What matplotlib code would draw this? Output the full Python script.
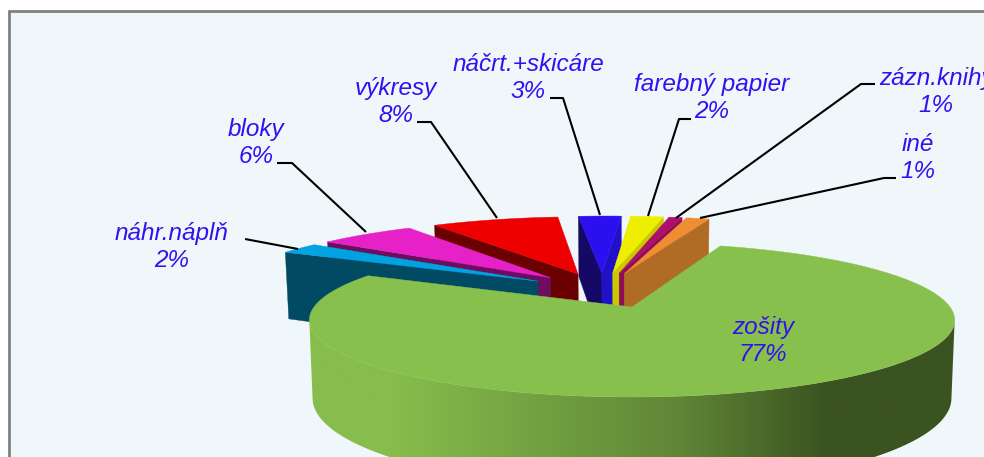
import numpy as np
import matplotlib
matplotlib.use("Agg")
import matplotlib.pyplot as plt
from matplotlib.colors import LinearSegmentedColormap
from matplotlib.patches import Polygon, Rectangle

categories = ["zošity", "náhr.náplň", "bloky", "výkresy", "náčrt.+skicáre",
              "farebný papier", "zázn.knihy", "iné"]
# shares, the labels round them
values = [77.2, 2.4, 5.8, 7.7, 2.6, 2.0, 0.8, 1.4]

top_colors = ["#88C04E", "#00A3DF", "#E621C8", "#EE0000", "#2A10EE", "#EEEE00", "#AE0F6C", "#F08C32"]
left_colors = ["#88C04E", "#004A63", "#6B0E5E", "#6B0000", "#140A66", "#C9C900", "#8F0D58", "#B06C24"]
right_colors = ["#88C04E", "#004A63", "#6B0E5E", "#6B0000", "#2011C8", "#C9C900", "#8F0D58", "#B06C24"]

label_pos = [(763, 341), (172, 247), (256, 143), (396, 102), (528, 78),
             (712, 98), (936, 92), (918, 158)]
leaders = [None,
           [(245, 239), (298, 249)],
           [(277, 163), (292, 163), (366, 232)],
           [(417, 122), (431, 122), (497, 218)],
           [(550, 98), (563, 98), (600, 215)],
           [(691, 119), (679, 119), (648, 216)],
           [(875, 84), (861, 84), (676, 218)],
           [(896, 178), (884, 178), (700, 218)]]

# camera: flat pie -> pixels, the far side is squeezed
APEX_X, APEX_Y = 632, 307
SCALE_X, SCALE_Y = 318, 74.8
PERSP = 0.169
DEPTH = 76
EXPLODE = 0.255
SMALL_R = 1.04
START = 71.2


def project(u, v, bottom=False):
    u, v = np.asarray(u, float), np.asarray(v, float)
    s = 1 / (1 + PERSP * v)
    x = SCALE_X * u * s
    y = APEX_Y - SCALE_Y * v * s
    if bottom:
        x = x * 0.99
        y = y + DEPTH * s
    return np.column_stack([APEX_X + x, y])


def band(ax, u, v, color):
    top = project(u, v)
    bot = project(u, v, bottom=True)
    patch = Polygon(np.vstack([top, bot[::-1]]), closed=True, fc=color, ec=color, lw=0.3, zorder=ax.z)
    ax.add_patch(patch)
    ax.z += 1
    return patch


fig = plt.figure(figsize=(9.84, 4.57), dpi=100, facecolor="white")
ax = fig.add_axes([0, 0, 1, 1])
ax.set_xlim(0, 984)
ax.set_ylim(457, 0)
ax.axis("off")
ax.z = 2

ax.add_patch(Rectangle((9, 11), 1000, 480, fc="#EFF7FA", ec="#808080", lw=2, zorder=1))

# angles run clockwise from the start of the first slice
edges = START - np.cumsum([0] + values) * 3.6
mids = (edges[:-1] + edges[1:]) / 2
main_dir = np.array([np.cos(np.radians(mids[0])), np.sin(np.radians(mids[0]))])

# slices overlap from the middle outwards, the big one last
order = [4, 3, 2, 1, 5, 6, 7, 0]
for i in order:
    a0, a1 = edges[i], edges[i + 1]
    direction = np.array([np.cos(np.radians(mids[i])), np.sin(np.radians(mids[i]))])
    off = EXPLODE * (direction - main_dir)
    r = 1 if i == 0 else SMALL_R
    t = np.radians(np.linspace(a0, a1, 400))
    u = off[0] + r * np.cos(t)
    v = off[1] + r * np.sin(t)

    if i == 0:
        # rim with the dark shading towards the right, front part only
        front = v < -PERSP
        rim = band(ax, u[front], v[front], "none")
        cmap = LinearSegmentedColormap.from_list("rim", [(0, "#86BD4C"), (0.14, "#86BD4C"), (0.58, "#5F8536"),
                                                         (0.80, "#3B5320"), (1, "#3B5320")])
        grad = np.linspace(0, 1, 400).reshape(1, -1)
        im = ax.imshow(grad, cmap=cmap, extent=(300, 960, 500, 200), aspect="auto", zorder=ax.z)
        im.set_clip_path(rim)
        ax.z += 1
        ax.set_xlim(0, 984)
        ax.set_ylim(457, 0)
    else:
        apex = project(off[0], off[1])[0]
        # only the cut faces turned to the viewer, clockwise so the first point is the left one
        if project(u[0], v[0])[0][0] < apex[0]:
            band(ax, [off[0], u[0]], [off[1], v[0]], left_colors[i])
        if project(u[-1], v[-1])[0][0] > apex[0]:
            band(ax, [off[0], u[-1]], [off[1], v[-1]], right_colors[i])

    top = project(np.r_[off[0], u], np.r_[off[1], v])
    ax.add_patch(Polygon(top, closed=True, fc=top_colors[i], ec=top_colors[i], lw=0.3, zorder=ax.z))
    ax.z += 1

for i, name in enumerate(categories):
    if leaders[i]:
        xs, ys = zip(*leaders[i])
        ax.plot(xs, ys, color="black", lw=1.5, zorder=ax.z, solid_capstyle="butt")
    ax.text(label_pos[i][0], label_pos[i][1], f"{name}\n{round(values[i])}%", ha="center", va="center",
            family="Liberation Sans", style="italic", fontsize=17.5, color="#3311EE",
            linespacing=1.22, zorder=ax.z + 1)

fig.savefig("out.png", dpi=100, facecolor="white")
